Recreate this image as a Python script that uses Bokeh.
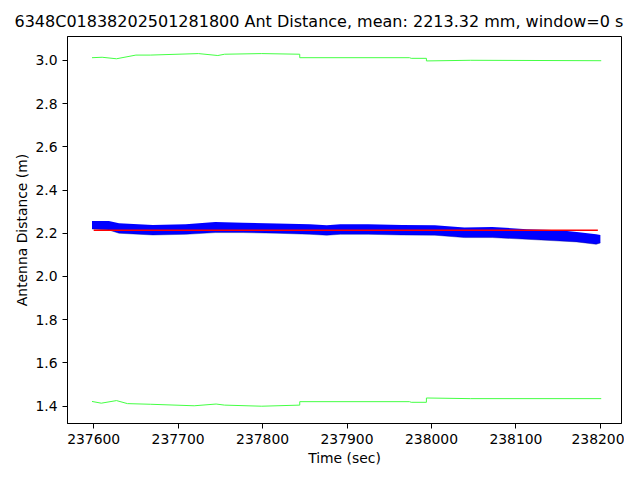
from bokeh.plotting import figure
from bokeh.models import Range1d, BasicTickFormatter, NumeralTickFormatter, FixedTicker
from bokeh.embed import file_html
from bokeh.resources import INLINE

# ---- data ----
title_text = "6348C01838202501281800 Ant Distance, mean: 2213.32 mm, window=0 s"
mean_m = 2.21332

# blue measurement band (outer envelope of the dense scatter)
blue_t = [237598, 237618, 237630, 237670, 237709, 237744, 237777, 237817, 237856,
          237876, 237892, 237925, 237965, 238004, 238039, 238072, 238113, 238152,
          238172, 238195, 238200]
blue_hi = [2.257, 2.257, 2.246, 2.238, 2.242, 2.252, 2.249, 2.245, 2.242,
           2.237, 2.242, 2.242, 2.238, 2.237, 2.226, 2.229, 2.219, 2.214,
           2.206, 2.195, 2.192]
blue_lo = [2.220, 2.215, 2.200, 2.192, 2.195, 2.203, 2.203, 2.200, 2.195,
           2.191, 2.195, 2.195, 2.192, 2.191, 2.180, 2.180, 2.172, 2.164,
           2.160, 2.149, 2.155]

# upper green limit
up_t = [237598, 237610, 237627, 237650, 237667, 237724, 237747, 237755, 237799,
        237844, 237844, 237974, 237976, 237994, 237994, 238046, 238201]
up_v = [3.012, 3.014, 3.007, 3.024, 3.024, 3.031, 3.022, 3.028, 3.031,
        3.028, 3.012, 3.012, 3.009, 3.009, 2.997, 3.000, 2.998]

# lower green limit
lo_t = [237598, 237609, 237627, 237640, 237667, 237719, 237745, 237755, 237799,
        237844, 237844, 237974, 237976, 237994, 237994, 238046, 238201]
lo_v = [1.422, 1.414, 1.426, 1.412, 1.409, 1.402, 1.410, 1.405, 1.400,
        1.405, 1.421, 1.421, 1.418, 1.418, 1.438, 1.435, 1.435]

red_t = [237600, 238197]

x_ticks = [237600, 237700, 237800, 237900, 238000, 238100, 238200]
y_ticks = [1.4, 1.6, 1.8, 2.0, 2.2, 2.4, 2.6, 2.8, 3.0]

FONT = "DejaVu Sans"

p = figure(width=624, height=473, output_backend="svg", toolbar_location=None,
           x_range=Range1d(237569, 238225), y_range=Range1d(1.320, 3.110),
           min_border_left=67, min_border_right=3, min_border_top=36,
           min_border_bottom=50)

p.title.text = title_text
p.title.align = "left"
p.title.offset = -53
p.title.standoff = 12
p.title.text_font = FONT
p.title.text_font_size = "16px"
p.title.text_font_style = "normal"
p.title.text_color = "black"

p.varea(x=blue_t, y1=blue_lo, y2=blue_hi, fill_color="#0000ff")
p.line(x=blue_t, y=blue_lo, line_color="#00008b", line_width=0.8, line_alpha=0.5)
p.line(x=red_t, y=[mean_m, mean_m], line_color="red", line_width=1.5)
p.line(x=up_t, y=up_v, line_color="#44ff44", line_width=1)
p.line(x=lo_t, y=lo_v, line_color="#44ff44", line_width=1)

p.grid.visible = False
p.outline_line_color = "black"
p.outline_line_width = 1
p.background_fill_color = "white"
p.border_fill_color = "white"

for ax in (p.xaxis[0], p.yaxis[0]):
    ax.axis_line_color = "black"
    ax.major_tick_line_color = "black"
    ax.major_tick_out = 5
    ax.major_tick_in = 0
    ax.minor_tick_line_color = None
    ax.major_label_text_font = FONT
    ax.major_label_text_font_size = "13.9px"
    ax.major_label_text_color = "black"
    ax.axis_label_text_font = FONT
    ax.axis_label_text_font_size = "13.9px"
    ax.axis_label_text_font_style = "normal"
    ax.axis_label_text_color = "black"
    ax.major_label_standoff = 5

p.xaxis[0].ticker = FixedTicker(ticks=x_ticks)
p.xaxis[0].formatter = BasicTickFormatter(use_scientific=False)
p.xaxis[0].axis_label = "Time (sec)"
p.xaxis[0].axis_label_standoff = 3

p.yaxis[0].ticker = FixedTicker(ticks=y_ticks)
p.yaxis[0].formatter = NumeralTickFormatter(format="0.0")
p.yaxis[0].axis_label = "Antenna Distance (m)"
p.yaxis[0].axis_label_standoff = 2

open("out.html", "w").write(file_html(p, INLINE))
